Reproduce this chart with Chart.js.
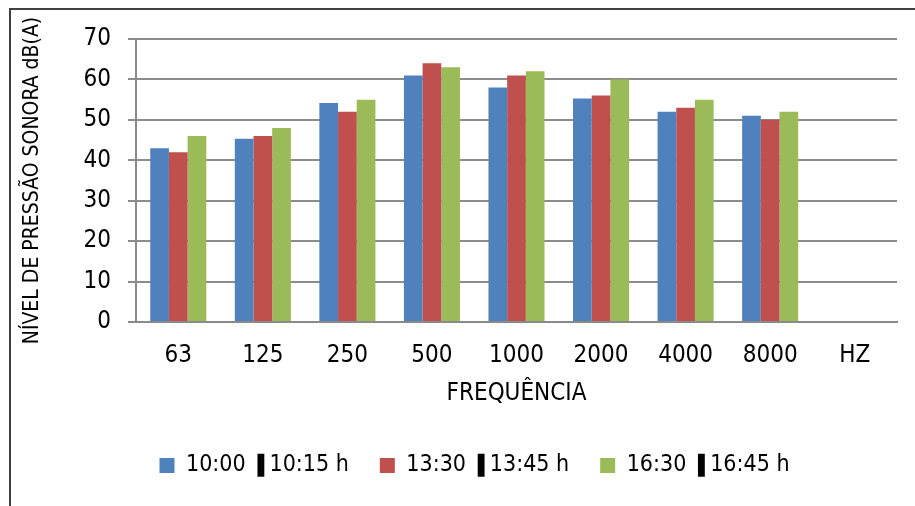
<!DOCTYPE html>
<html>
<head>
<meta charset="utf-8">
<script src="https://cdn.jsdelivr.net/npm/chart.js@4/dist/chart.umd.min.js"></script>
<style>
  html, body { margin: 0; padding: 0; background: #fff; }
  #wrap { position: relative; width: 915px; height: 506px; overflow: hidden; }
  #frame { position: absolute; left: 9px; top: 8px; width: 920px; height: 520px;
           border-top: 2px solid #404040; border-left: 2px solid #404040; box-sizing: border-box; }
  canvas { position: absolute; left: 0; top: 0; }
</style>
</head>
<body>
<div id="wrap">
  <div id="frame"></div>
  <canvas id="c" width="915" height="506"></canvas>
</div>
<script>
const categories = ["63", "125", "250", "500", "1000", "2000", "4000", "8000", "HZ"];
const seriesNames = ["10:00 \u275A10:15 h", "13:30 \u275A13:45 h", "16:30 \u275A16:45 h"];
const morning = [43, 45.3, 54.2, 61, 58, 55.3, 52, 51, null];
const midday = [42, 46, 52, 64, 61, 56, 53, 50, null];
const afternoon = [46, 48, 55, 63, 62, 60, 55, 52, null];
const yTicks = [0, 10, 20, 30, 40, 50, 60, 70];

const FONT = "'Liberation Sans Narrow', 'DejaVu Sans Condensed', 'Arial Narrow', sans-serif";

new Chart(document.getElementById('c'), {
  type: 'bar',
  data: {
    labels: categories,
    datasets: [
      { label: seriesNames[0], data: morning, backgroundColor: '#4F81BD' },
      { label: seriesNames[1], data: midday, backgroundColor: '#C0504D' },
      { label: seriesNames[2], data: afternoon, backgroundColor: '#9BBB59' }
    ]
  },
  options: {
    responsive: false,
    animation: false,
    devicePixelRatio: 1,
    layout: { padding: { left: 52, right: 18, top: 39, bottom: 19 } },
    datasets: { bar: { categoryPercentage: 0.663, barPercentage: 1.0 } },
    plugins: {
      tooltip: { enabled: false },
      legend: {
        position: 'bottom',
        labels: {
          boxWidth: 15, boxHeight: 15, padding: 31,
          color: '#000',
          font: { family: FONT, size: 23 }
        }
      }
    },
    scales: {
      x: {
        grid: { display: false, drawTicks: false, tickLength: 0 },
        border: { display: true, color: '#8a8a8a', width: 2 },
        ticks: { color: '#000', padding: 19, font: { family: FONT, size: 24 }, maxRotation: 0, autoSkip: false },
        title: { display: true, text: 'FREQUÊNCIA', color: '#000', font: { family: FONT, size: 24 }, padding: { top: 0, bottom: 15 } },
        afterFit: (s) => { s.height = 101; }
      },
      y: {
        min: 0, max: 70,
        afterBuildTicks: (s) => { s.ticks = yTicks.map(v => ({ value: v })); },
        grid: { color: '#8c8c8c', lineWidth: 2, tickLength: 8, drawTicks: true },
        border: { display: true, color: '#8a8a8a', width: 2 },
        ticks: { color: '#000', padding: 17, font: { family: FONT, size: 24 } },
        title: { display: true, text: 'NÍVEL DE PRESSÃO SONORA dB(A)', color: '#000', font: { family: FONT, size: 21 }, padding: { top: -31.6, bottom: 0 } },
        afterFit: (s) => { s.width = 84; }
      }
    }
  }
});
</script>
</body>
</html>
